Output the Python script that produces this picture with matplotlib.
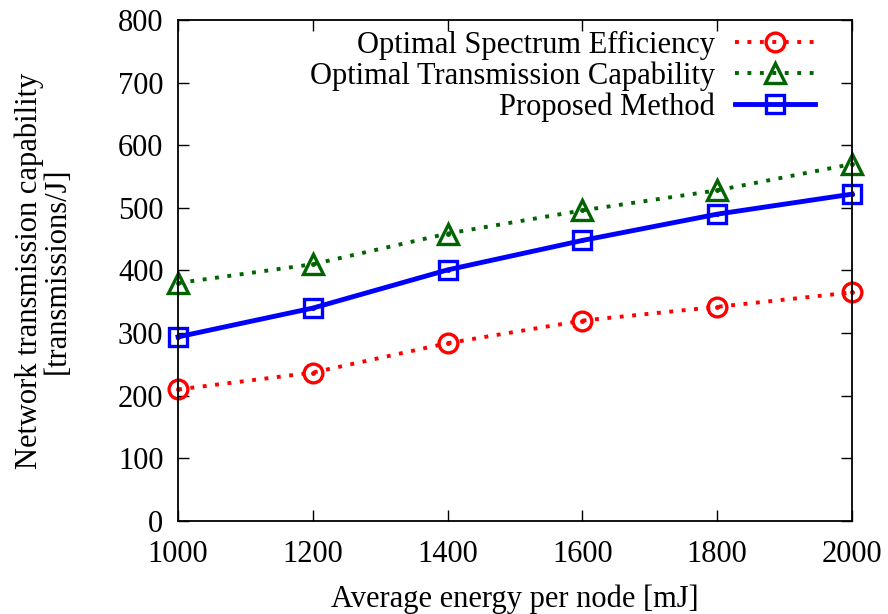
import matplotlib
matplotlib.use('Agg')
import matplotlib.pyplot as plt

plt.rcParams['font.family'] = ['Liberation Serif', 'DejaVu Serif']

# Data
energy = [1000, 1200, 1400, 1600, 1800, 2000]
spectrum_eff = [210, 237, 284, 320, 342, 365]
trans_cap = [380, 410, 459, 496, 528, 570]
proposed = [294, 340, 401, 448, 490, 522]

RED = '#ff0000'
GREEN = '#006400'
BLUE = '#0000ff'
FS = 22

fig = plt.figure(figsize=(8.88, 6.14), dpi=100)
ax = fig.add_axes([0.2005, 0.1515, 0.759, 0.8159])

dots = (0, (1.0, 2.2))
series = [
    ('Optimal Spectrum Efficiency', spectrum_eff, RED, 'o', dots, 2.8, 13.5),
    ('Optimal Transmission Capability', trans_cap, GREEN, '^', dots, 2.8, 14),
    ('Proposed Method', proposed, BLUE, 's', '-', 3.5, 12.5),
]

for label, ys, color, mk, ls, lw, ms in series:
    ax.plot(energy, ys, color=color, linestyle=ls, linewidth=lw, marker=mk,
            markersize=ms, markerfacecolor='none', markeredgecolor=color,
            markeredgewidth=2.4, dash_capstyle='butt', label=label, clip_on=False)
    # small dot in the middle of each point symbol
    ax.plot(energy, ys, linestyle='none', marker='o', markersize=2.5,
            color=color, clip_on=False)

ax.set_xlim(1000, 2000)
ax.set_ylim(0, 800)
ax.set_xticks(range(1000, 2001, 200))
ax.set_yticks(range(0, 801, 100))
ax.tick_params(direction='in', length=8, width=1, top=True, right=True,
               labelsize=FS)
ax.tick_params(axis='x', pad=14)
ax.tick_params(axis='y', pad=10.5)
for sp in ax.spines.values():
    sp.set_linewidth(1.3)

ax.set_xlabel('Average energy per node [mJ]', fontsize=FS, labelpad=11)
ax.set_ylabel('Network transmission capability\n[transmissions/J]', fontsize=FS,
              linespacing=0.95)
ax.yaxis.set_label_coords(-0.157, 0.5)

leg = ax.legend(loc='upper right', frameon=False, fontsize=FS, markerfirst=False,
                handlelength=2.62, handletextpad=0.66, labelspacing=0.05,
                borderpad=0, borderaxespad=0, bbox_to_anchor=(0.945, 0.978))
for txt in leg.get_texts():
    txt.set_ha('right')

fig.savefig('out.png', dpi=100, facecolor='white')
